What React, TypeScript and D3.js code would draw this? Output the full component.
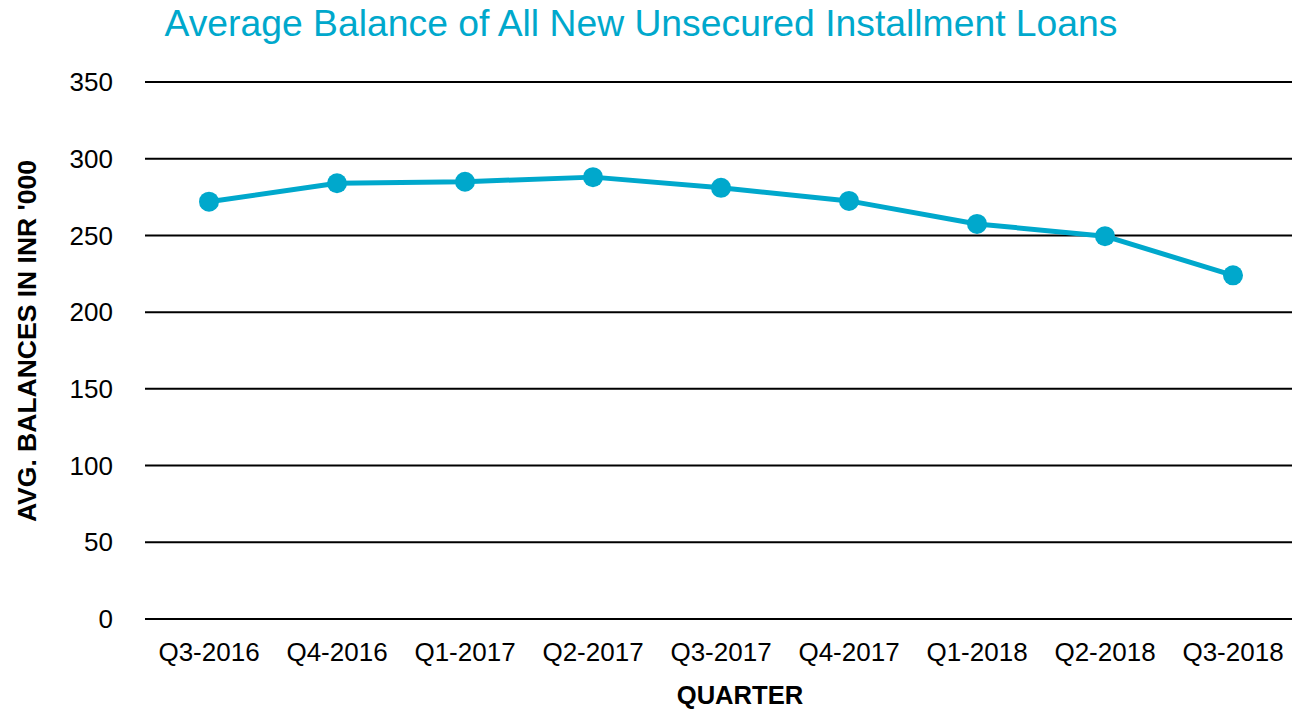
import React from "react";
import * as d3 from "d3";

const categories = ["Q3-2016", "Q4-2016", "Q1-2017", "Q2-2017", "Q3-2017", "Q4-2017", "Q1-2018", "Q2-2018", "Q3-2018"];
const values = [272, 284, 285, 288, 281, 272.5, 257.5, 249.5, 224];
const yTicks = [0, 50, 100, 150, 200, 250, 300, 350];
const title = "Average Balance of All New Unsecured Installment Loans";
const xTitle = "QUARTER";
const yTitle = "AVG. BALANCES IN INR '000";

const W = 1292, H = 712;
const left = 145, right = 1292, top = 82, bottom = 619;
const color = "#00A8CC";
const font = "'Liberation Sans', Arial, sans-serif";

export default function App() {
  const x = d3.scalePoint<string>().domain(categories).range([left, 1297]).padding(0.5);
  const y = d3.scaleLinear().domain([0, 350]).range([bottom, top]);
  const line = d3.line<number>().x((_, i) => x(categories[i])!).y((d) => y(d));
  return (
    <svg width={W} height={H} style={{ position: "absolute", left: 0, top: 0, background: "#fff" }} fontFamily={font}>
      <text x={641} y={36} textAnchor="middle" fontSize={37.3} fill={color}>{title}</text>
      {yTicks.map((t) => (
        <g key={t}>
          <line x1={left} x2={right} y1={y(t)} y2={y(t)} stroke="#000" strokeWidth={2} />
          <text x={113} y={y(t)} dy="0.35em" textAnchor="end" fontSize={26} fill="#000">{t}</text>
        </g>
      ))}
      {categories.map((c) => (
        <text key={c} x={x(c)} y={661} textAnchor="middle" fontSize={26} fill="#000">{c}</text>
      ))}
      <path d={line(values)!} fill="none" stroke={color} strokeWidth={5} strokeLinejoin="round" />
      {values.map((v, i) => (
        <circle key={i} cx={x(categories[i])} cy={y(v)} r={10} fill={color} />
      ))}
      <text x={740} y={704} textAnchor="middle" fontSize={25.6} fontWeight="bold" fill="#000">{xTitle}</text>
      <text transform={`translate(36,341) rotate(-90)`} textAnchor="middle" fontSize={26.5} fontWeight="bold" fill="#000">{yTitle}</text>
    </svg>
  );
}
